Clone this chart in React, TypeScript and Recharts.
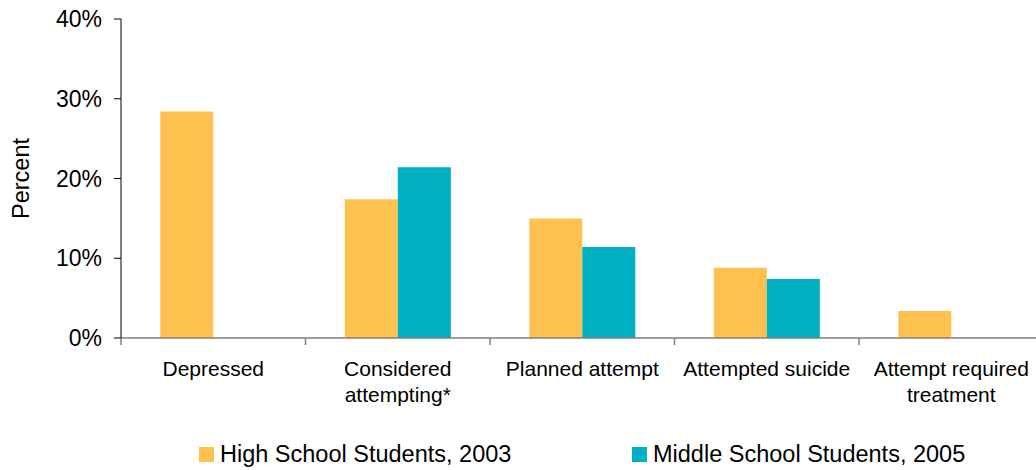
import { BarChart, Bar, XAxis, YAxis, Legend, Label } from 'recharts';

const categories = ['Depressed', 'Considered\nattempting*', 'Planned attempt', 'Attempted suicide', 'Attempt required\ntreatment'];
const highSchool2003 = [28.4, 17.4, 15.0, 8.8, 3.4];
const middleSchool2005: (number | null)[] = [null, 21.4, 11.4, 7.4, null];
const percentTicks = [0, 10, 20, 30, 40];

const seriesNames = ['High School Students, 2003', 'Middle School Students, 2005'];
const seriesColors = ['#FEC150', '#00AFC1'];

const data = categories.map((category, i) => ({
    category,
    hs: highSchool2003[i],
    ms: middleSchool2005[i],
}));

const FONT = '"Liberation Sans", Arial, Helvetica, sans-serif';

// category label with a tick mark on the left edge of its band
const CategoryTick = (props: any) => {
    const { x, y, payload } = props;
    const left = x - (payload.offset ?? 0);
    const lines = String(payload.value).split('\n');
    return (
        <g>
            <line x1={left} x2={left} y1={y} y2={y + 7} stroke="#7f7f7f" strokeWidth={1.5} />
            <text x={x} y={y + 38} textAnchor="middle" fill="#000" fontSize={21} fontFamily={FONT}>
                {lines.map((line, i) => (
                    <tspan key={i} x={x} dy={i === 0 ? 0 : 26}>{line}</tspan>
                ))}
            </text>
        </g>
    );
};

const LegendContent = () => {
    const lefts = [199, 632];
    return (
        <div style={{ position: 'relative', height: 30, fontFamily: FONT, fontSize: 23.5, lineHeight: '30px', color: '#000' }}>
            {seriesNames.map((name, i) => (
                <div key={name} style={{ position: 'absolute', left: lefts[i], top: 0, display: 'flex', alignItems: 'center', whiteSpace: 'nowrap' }}>
                    <span style={{ display: 'inline-block', width: 15, height: 15, background: seriesColors[i], marginRight: 6 }} />
                    <span>{name}</span>
                </div>
            ))}
        </div>
    );
};

const App = () => {
    return (
        <div style={{ position: 'absolute', left: 0, top: 0, width: 1036, height: 470, overflow: 'hidden', background: '#fff' }}>
            <BarChart
                width={1050}
                height={470}
                data={data}
                margin={{ top: 19, right: 6.5, left: 0, bottom: 40 }}
                barCategoryGap="21.3%"
                barGap={0}
            >
                <XAxis
                    dataKey="category"
                    height={62}
                    interval={0}
                    axisLine={{ stroke: '#7f7f7f', strokeWidth: 1.5 }}
                    tickLine={false}
                    tickSize={0}
                    tickMargin={0}
                    tick={<CategoryTick />}
                />
                <YAxis
                    width={121}
                    domain={[0, 40]}
                    ticks={percentTicks}
                    tickFormatter={(v: number) => `${v}%`}
                    axisLine={{ stroke: '#000' }}
                    tickLine={{ stroke: '#000' }}
                    tickSize={7}
                    tickMargin={12}
                    tick={{ fill: '#000', fontSize: 23, fontFamily: FONT }}
                >
                    <Label value="Percent" angle={-90} position="center" dx={-40} style={{ fill: '#000', fontSize: 23.5, fontFamily: FONT }} />
                </YAxis>
                <Legend verticalAlign="bottom" content={<LegendContent />} wrapperStyle={{ left: 0, bottom: 1, width: 1036 }} />
                <Bar dataKey="hs" name={seriesNames[0]} fill={seriesColors[0]} isAnimationActive={false} />
                <Bar dataKey="ms" name={seriesNames[1]} fill={seriesColors[1]} isAnimationActive={false} />
            </BarChart>
        </div>
    );
};

export default App;
